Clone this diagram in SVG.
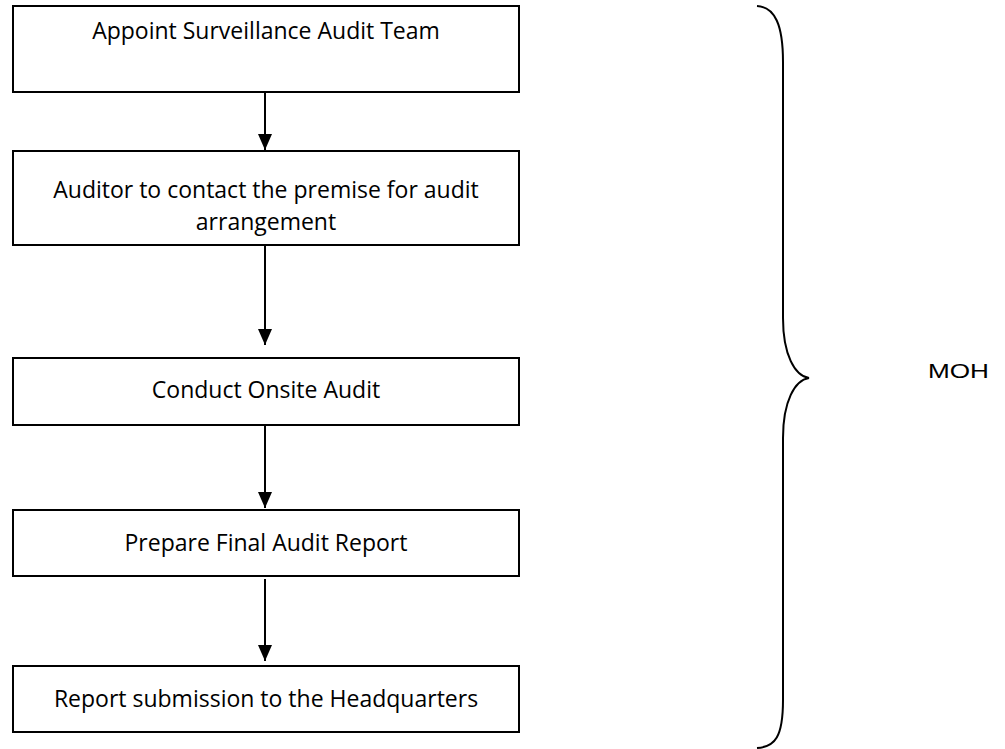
<svg xmlns="http://www.w3.org/2000/svg" width="1005" height="749" viewBox="0 0 1005 749">
<style>
.box{fill:#fff;stroke:#000;stroke-width:2}
.t{font-family:"Open Sans","Liberation Sans",sans-serif;font-size:23px;fill:#000;text-anchor:middle}
.c{stroke:#000;stroke-width:2;fill:none}
</style>
<defs>
<marker id="ah2" markerUnits="userSpaceOnUse" markerWidth="16" markerHeight="14" refX="16" refY="7" orient="auto" viewBox="0 0 16 14">
<path d="M0,0 L16,7 L0,14 Z" fill="#000"/>
</marker>
</defs>
<g id="n1"><rect class="box" x="13" y="6" width="506" height="86"/><text class="t" x="266" y="39">Appoint Surveillance Audit Team</text></g>
<g id="n2"><rect class="box" x="13" y="151" width="506" height="94"/><text class="t" x="266" y="198">Auditor to contact the premise for audit</text><text class="t" x="266" y="230">arrangement</text></g>
<g id="n3"><rect class="box" x="13" y="358" width="506" height="67"/><text class="t" x="266" y="398">Conduct Onsite Audit</text></g>
<g id="n4"><rect class="box" x="13" y="510" width="506" height="66"/><text class="t" x="266" y="551">Prepare Final Audit Report</text></g>
<g id="n5"><rect class="box" x="13" y="666" width="506" height="66"/><text class="t" x="266" y="707">Report submission to the Headquarters</text></g>
<g id="connectors">
<line class="c" x1="265" y1="93" x2="265" y2="150" marker-end="url(#ah2)"/>
<line class="c" x1="265" y1="246" x2="265" y2="345" marker-end="url(#ah2)"/>
<line class="c" x1="265" y1="426" x2="265" y2="508" marker-end="url(#ah2)"/>
<line class="c" x1="265" y1="579" x2="265" y2="661" marker-end="url(#ah2)"/>
</g>
<g id="brace">
<path class="c" d="M757,6 C775,7 783,25 783,62 L783,318 C783,355 795,376 809,378 C795,380 783,401 783,438 L783,700 C783,737 775,747 757,748"/>
</g>
<g id="moh"><text x="928" y="378" font-family="Liberation Sans, Arial, sans-serif" font-size="21" textLength="61" lengthAdjust="spacingAndGlyphs">MOH</text></g>
</svg>
